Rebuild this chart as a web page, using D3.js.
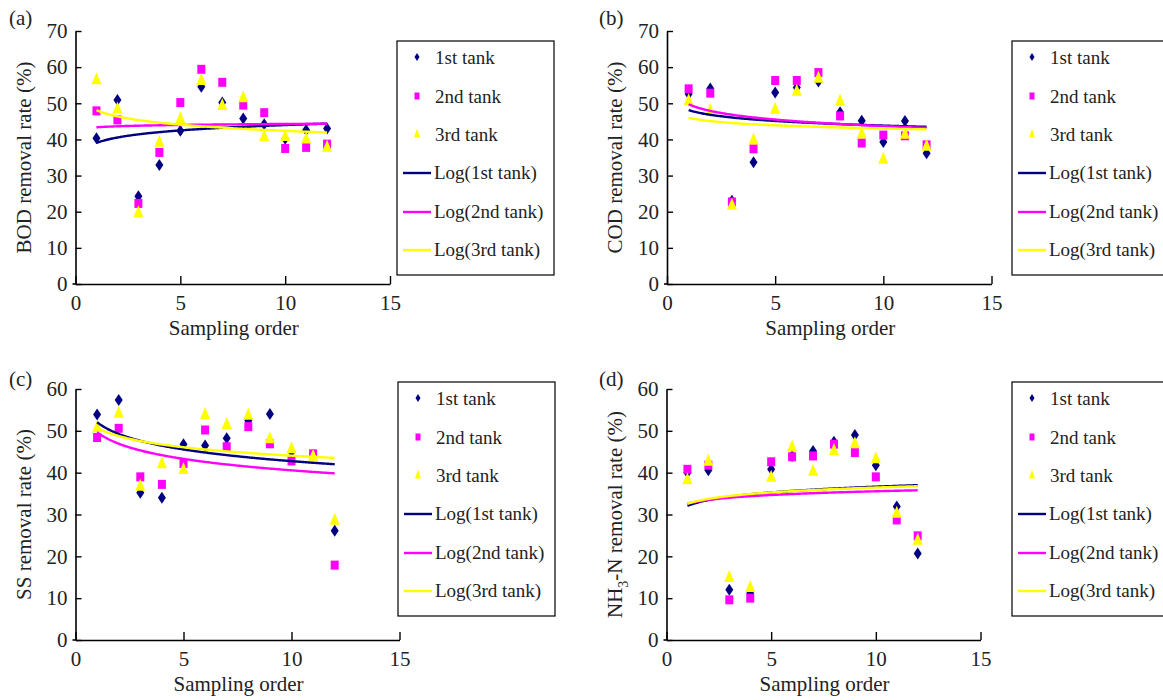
<!DOCTYPE html>
<html>
<head>
<meta charset="utf-8">
<script src="https://cdn.jsdelivr.net/npm/d3@7"></script>
<style>
  html, body { margin: 0; padding: 0; background: #fff; }
  svg { display: block; font-family: "Liberation Serif", "Times New Roman", serif; }
</style>
</head>
<body>
<svg id="chart" width="1163" height="700"></svg>
<script>
// ---------------- data ----------------
const samplingOrder = [1, 2, 3, 4, 5, 6, 7, 8, 9, 10, 11, 12];
const xTicks = [0, 5, 10, 15];
const yTicks70 = [0, 10, 20, 30, 40, 50, 60, 70];
const yTicks60 = [0, 10, 20, 30, 40, 50, 60];
const seriesNames = ["1st tank", "2nd tank", "3rd tank"];
const trendNames = ["Log(1st tank)", "Log(2nd tank)", "Log(3rd tank)"];
const panelLetters = ["(a)", "(b)", "(c)", "(d)"];

// (a) BOD removal rate (%)
const bod1 = [40.3, 50.9, 24.3, 32.9, 42.4, 54.6, 50.2, 45.8, 44.2, 40.2, 42.6, 43.0];
const bod2 = [47.9, 45.4, 22.3, 36.4, 50.2, 59.4, 55.8, 49.5, 47.4, 37.5, 37.8, 38.7];
const bod3 = [56.6, 48.5, 19.8, 39.3, 45.8, 56.4, 49.5, 51.6, 40.9, 40.9, 40.2, 37.9];
// (b) COD removal rate (%)
const cod1 = [52.6, 54.1, 23.0, 33.7, 53.0, 54.4, 56.0, 47.5, 45.2, 39.3, 45.1, 36.2];
const cod2 = [54.0, 52.8, 22.7, 37.4, 56.3, 56.3, 58.5, 46.5, 39.0, 41.2, 41.0, 38.5];
const cod3 = [50.8, 48.0, 21.9, 39.9, 48.4, 53.4, 57.0, 50.7, 41.6, 34.6, 41.5, 38.2];
// (c) SS removal rate (%)
const ss1 = [53.9, 57.4, 35.2, 34.0, 46.8, 46.5, 48.2, 52.5, 54.0, 45.0, 44.3, 26.1];
const ss2 = [48.4, 50.6, 39.0, 37.2, 42.2, 50.2, 46.2, 51.0, 46.9, 42.8, 44.5, 17.9];
const ss3 = [50.8, 54.3, 36.8, 42.2, 40.8, 54.0, 51.6, 53.8, 48.2, 45.8, 44.0, 28.7];
// (d) NH3-N removal rate (%)
const nh1 = [40.0, 40.6, 12.0, 11.2, 40.8, 44.0, 45.2, 47.4, 49.0, 41.8, 31.9, 20.7];
const nh2 = [40.8, 41.8, 9.6, 10.0, 42.6, 43.8, 44.0, 46.8, 44.8, 39.0, 28.7, 24.9];
const nh3 = [38.4, 42.8, 15.0, 12.6, 39.0, 46.2, 40.4, 45.4, 47.0, 43.4, 30.4, 23.9];

// ---------------- style ----------------
const colors = ["#000080", "#FF00FF", "#FFFF00"];
const svg = d3.select("#chart");

// Excel-style logarithmic trendline: y = a + b ln(x), least squares from the data
function logFit(xs, ys) {
  const lx = xs.map(Math.log);
  const mx = d3.mean(lx), my = d3.mean(ys);
  const sxy = d3.sum(lx, (v, i) => (v - mx) * (ys[i] - my));
  const sxx = d3.sum(lx, v => (v - mx) * (v - mx));
  const b = sxy / sxx;
  return { a: my - b * mx, b };
}

function markerPath(kind, cx, cy, w, h) {
  const p = d3.path();
  if (kind === 0) { // diamond
    p.moveTo(cx, cy - h / 2); p.lineTo(cx + w / 2, cy); p.lineTo(cx, cy + h / 2); p.lineTo(cx - w / 2, cy); p.closePath();
  } else if (kind === 1) { // square
    p.rect(cx - w / 2, cy - h / 2, w, h);
  } else { // triangle
    p.moveTo(cx, cy - h * 0.6); p.lineTo(cx + w / 2, cy + h * 0.4); p.lineTo(cx - w / 2, cy + h * 0.4); p.closePath();
  }
  return p.toString();
}
const markerSize = [[8, 12], [8, 9], [10, 12]];
const legendMarkerSize = [[5, 8], [5, 7], [6, 9]];

function drawPanel(cfg) {
  const g = svg.append("g");
  const x = d3.scaleLinear().domain([0, 15]).range([cfg.x0, cfg.x1]);
  const y = d3.scaleLinear().domain([0, cfg.yMax]).range([cfg.y0, cfg.y1]);

  // axes
  const yAxis = d3.axisLeft(y).tickValues(cfg.yTicks).tickSize(-6).tickPadding(14).tickSizeOuter(0);
  const gy = g.append("g").attr("transform", `translate(${cfg.x0},0)`).call(yAxis);
  const xAxis = d3.axisBottom(x).tickValues(xTicks).tickSize(-8).tickPadding(14).tickSizeOuter(0);
  const gx = g.append("g").attr("transform", `translate(0,${cfg.y0})`).call(xAxis);
  [gx, gy].forEach(ax => {
    ax.select(".domain").attr("stroke", "#000").attr("stroke-width", 1.6);
    ax.selectAll(".tick line").attr("stroke", "#000").attr("stroke-width", 1.4);
    ax.selectAll(".tick text").attr("fill", "#222").attr("font-size", 21)
      .attr("font-family", '"Liberation Serif", "Times New Roman", serif');
  });
  gx.selectAll(".tick text").attr("dy", "0.71em").attr("y", 11);
  gy.selectAll(".tick text").attr("x", -8);
  // small outward stub at origin
  g.append("line").attr("x1", cfg.x0 - 3).attr("x2", cfg.x0).attr("y1", cfg.y0).attr("y2", cfg.y0)
    .attr("stroke", "#000").attr("stroke-width", 1.6);

  // markers: series 1, then 2, then 3 on top
  cfg.series.forEach((vals, si) => {
    g.append("g").selectAll("path").data(vals).join("path")
      .attr("d", (v, i) => markerPath(si, x(samplingOrder[i]), y(v), markerSize[si][0], markerSize[si][1]))
      .attr("fill", colors[si]);
  });

  // log trendlines
  const line = d3.line().x(d => x(d[0])).y(d => y(d[1]));
  cfg.series.forEach((vals, si) => {
    const f = logFit(samplingOrder, vals);
    const xs = d3.range(1, 12.001, 0.05);
    g.append("path").attr("d", line(xs.map(t => [t, f.a + f.b * Math.log(t)])))
      .attr("fill", "none").attr("stroke", colors[si]).attr("stroke-width", 2.4);
  });

  // labels
  g.append("text").attr("x", cfg.letterX).attr("y", cfg.letterY).attr("font-size", 21).attr("fill", "#222")
    .text(cfg.letter);
  g.append("text").attr("x", (cfg.x0 + cfg.x1) / 2 + 1).attr("y", cfg.y0 + 51)
    .attr("text-anchor", "middle").attr("font-size", 21).attr("fill", "#222").text("Sampling order");
  const yl = g.append("text")
    .attr("transform", `translate(${cfg.yLabelX},${(cfg.y0 + cfg.y1) / 2}) rotate(-90)`)
    .attr("text-anchor", "middle").attr("font-size", 21).attr("fill", "#222");
  cfg.yLabel.forEach(part => {
    const t = yl.append("tspan").text(part.t);
    if (part.sub) t.attr("font-size", 14).attr("dy", 6);
    if (part.after) t.attr("dy", -6);
  });

  // legend
  const L = cfg.legX, T = cfg.legY;
  const lg = g.append("g");
  lg.append("rect").attr("x", L).attr("y", T).attr("width", 157).attr("height", 234)
    .attr("fill", "#fff").attr("stroke", "#000").attr("stroke-width", 1.2);
  const rows = [17, 56, 94, 132, 171, 209];
  seriesNames.forEach((name, si) => {
    const cy = T + rows[si];
    lg.append("path").attr("d", markerPath(si, L + 20, cy - 1, legendMarkerSize[si][0], legendMarkerSize[si][1]))
      .attr("fill", colors[si]);
    lg.append("text").attr("x", L + 38).attr("y", cy + 6).attr("font-size", 19).attr("fill", "#222").text(name);
  });
  trendNames.forEach((name, si) => {
    const cy = T + rows[si + 3];
    lg.append("line").attr("x1", L + 6).attr("x2", L + 34).attr("y1", cy).attr("y2", cy)
      .attr("stroke", colors[si]).attr("stroke-width", 2.4);
    lg.append("text").attr("x", L + 37).attr("y", cy + 6).attr("font-size", 19).attr("fill", "#222").text(name);
  });
}

drawPanel({
  letter: panelLetters[0], letterX: 9, letterY: 25,
  x0: 75.5, x1: 390, y0: 284, y1: 31, yMax: 70, yTicks: yTicks70, yLabelX: 31,
  yLabel: [{ t: "BOD removal rate (%)" }],
  series: [bod1, bod2, bod3], legX: 397, legY: 41
});
drawPanel({
  letter: panelLetters[1], letterX: 599, letterY: 25,
  x0: 667, x1: 991.5, y0: 284, y1: 31, yMax: 70, yTicks: yTicks70, yLabelX: 622,
  yLabel: [{ t: "COD removal rate (%)" }],
  series: [cod1, cod2, cod3], legX: 1012, legY: 41
});
drawPanel({
  letter: panelLetters[2], letterX: 9, letterY: 386,
  x0: 75.5, x1: 399.5, y0: 640, y1: 389, yMax: 60, yTicks: yTicks60, yLabelX: 31,
  yLabel: [{ t: "SS removal rate (%)" }],
  series: [ss1, ss2, ss3], legX: 398, legY: 382
});
drawPanel({
  letter: panelLetters[3], letterX: 599, letterY: 386,
  x0: 666.5, x1: 980.5, y0: 640, y1: 389, yMax: 60, yTicks: yTicks60, yLabelX: 622,
  yLabel: [{ t: "NH" }, { t: "3", sub: true }, { t: "-N removal rate (%)", after: true }],
  series: [nh1, nh2, nh3], legX: 1012, legY: 382
});
</script>
</body>
</html>
